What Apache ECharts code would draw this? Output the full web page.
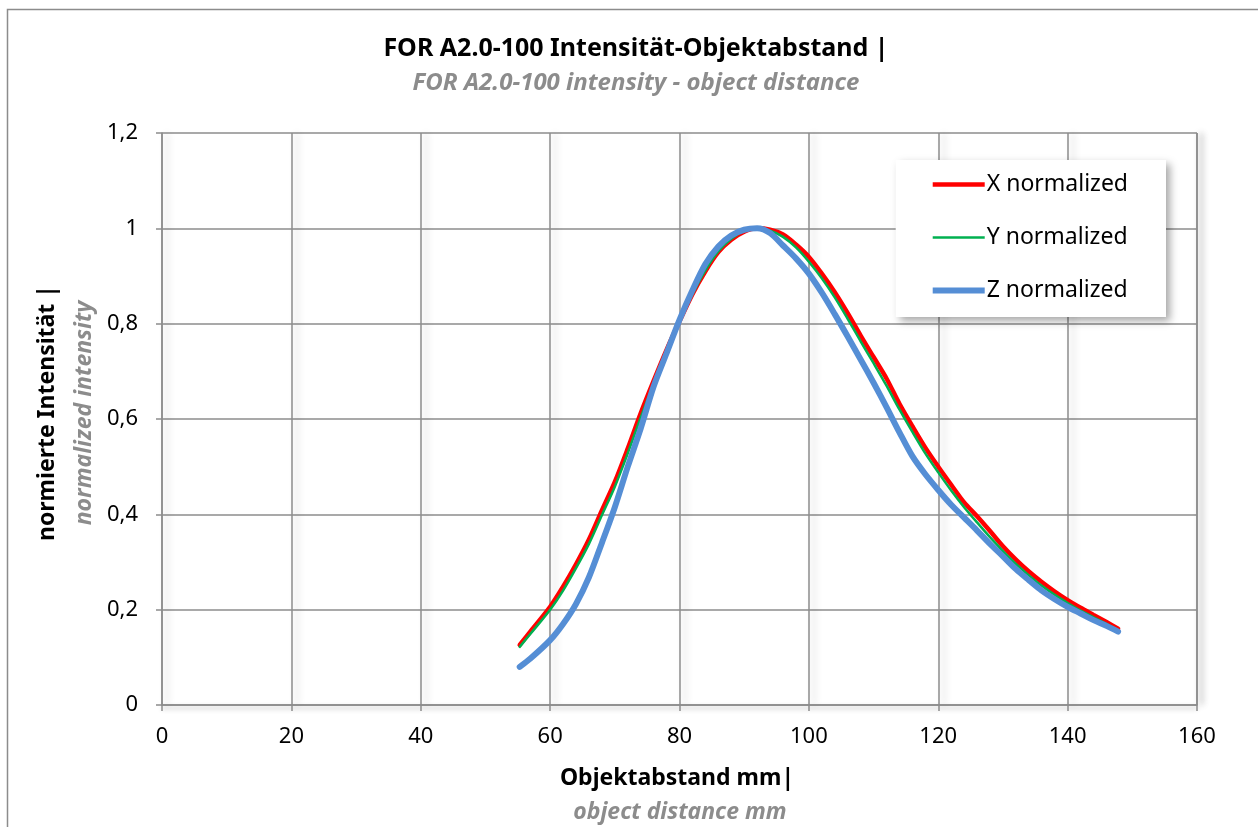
<!DOCTYPE html>
<html>
<head>
<meta charset="utf-8">
<script src="https://cdn.jsdelivr.net/npm/echarts@6/dist/echarts.min.js"></script>
<style>
  html, body { margin: 0; padding: 0; background: #fff; }
  #chart { width: 1258px; height: 827px; }
</style>
</head>
<body>
<div id="chart"></div>
<script>
// distance in mm
const distance = [55.3, 57, 60, 62, 64, 66, 68, 70, 72, 74, 76, 78, 80, 82, 84, 86, 88, 90, 92, 94, 96, 98,
  100, 102, 104, 106, 108, 110, 112, 114, 116, 118, 120, 122, 124, 126, 128, 130, 132, 134, 136, 138,
  140, 142, 144, 146, 147.8];

// normalized intensities
const xNorm = [0.126, 0.155, 0.206, 0.248, 0.295, 0.347, 0.408, 0.468, 0.538, 0.612, 0.680, 0.745, 0.805,
  0.862, 0.910, 0.950, 0.976, 0.993, 1.000, 0.997, 0.987, 0.966, 0.940, 0.905, 0.866, 0.822, 0.775, 0.730,
  0.685, 0.632, 0.585, 0.540, 0.500, 0.462, 0.425, 0.396, 0.365, 0.333, 0.305, 0.280, 0.258, 0.238, 0.220,
  0.204, 0.189, 0.174, 0.160];
const yNorm = [0.122, 0.150, 0.200, 0.240, 0.287, 0.338, 0.398, 0.458, 0.528, 0.603, 0.674, 0.742, 0.805,
  0.862, 0.912, 0.952, 0.978, 0.995, 1.000, 0.995, 0.982, 0.960, 0.930, 0.895, 0.855, 0.810, 0.763, 0.717,
  0.670, 0.620, 0.573, 0.528, 0.488, 0.450, 0.415, 0.383, 0.352, 0.323, 0.296, 0.272, 0.250, 0.231, 0.214,
  0.198, 0.184, 0.170, 0.157];
const zNorm = [0.080, 0.098, 0.136, 0.170, 0.212, 0.268, 0.340, 0.415, 0.500, 0.580, 0.668, 0.738, 0.808,
  0.870, 0.925, 0.962, 0.985, 0.997, 1.000, 0.990, 0.964, 0.937, 0.905, 0.865, 0.820, 0.773, 0.725, 0.676,
  0.625, 0.572, 0.522, 0.484, 0.451, 0.420, 0.393, 0.366, 0.338, 0.312, 0.285, 0.262, 0.240, 0.222, 0.206,
  0.192, 0.178, 0.166, 0.154];

const seriesNames = ["X normalized", "Y normalized", "Z normalized"];
const seriesColors = ["#ff0000", "#00b050", "#558ed5"];
const lineWidths = [4.5, 2.5, 6];

const FONT = "Noto Sans";
const GRID_COLOR = "#8c8c8c";

const pairs = ys => distance.map((d, i) => [d, ys[i]]);
const commaFmt = v => String(+(+v).toFixed(1)).replace(".", ",");
// legend icon: a flat bar as thick as the series line
const barIcon = w => "path://M0,0H52V" + w + "H0Z";

const chart = echarts.init(document.getElementById("chart"));

chart.setOption({
  animation: false,
  backgroundColor: "#fff",
  title: {
    text: "FOR A2.0-100 Intensität-Objektabstand |",
    subtext: "FOR A2.0-100 intensity - object distance",
    left: 631,
    textAlign: "center",
    top: 31,
    itemGap: 10,
    textStyle: { fontFamily: FONT, fontSize: 25, fontWeight: "bold", color: "#000" },
    subtextStyle: { fontFamily: FONT, fontSize: 24, fontWeight: "bold", fontStyle: "italic", color: "#8c8c8c" }
  },
  grid: { left: 162, right: 61, top: 133, bottom: 122, show: false },
  legend: {
    orient: "vertical",
    right: 92,
    top: 160,
    itemWidth: 52,
    itemHeight: 14,
    itemGap: 30,
    padding: [13, 38, 15, 37],
    backgroundColor: "#fff",
    shadowColor: "rgba(0,0,0,0.35)",
    shadowBlur: 8,
    shadowOffsetX: 4,
    shadowOffsetY: 4,
    textStyle: { fontFamily: FONT, fontSize: 23, color: "#000", padding: [0, 0, 0, -3] },
    data: seriesNames.map((n, i) => ({ name: n, icon: barIcon(lineWidths[i]) }))
  },
  xAxis: {
    type: "value",
    min: 0,
    max: 160,
    interval: 20,
    axisLine: { show: true, lineStyle: { color: GRID_COLOR, width: 1.5, shadowColor: "rgba(0,0,0,0.3)", shadowBlur: 5, shadowOffsetY: 3 } },
    axisTick: { show: true, length: 6, lineStyle: { color: GRID_COLOR, width: 1.5 } },
    axisLabel: { fontFamily: FONT, fontSize: 22, color: "#000", margin: 21 },
    splitLine: { show: true, lineStyle: { color: GRID_COLOR, width: 1.5, shadowColor: "rgba(0,0,0,0.22)", shadowBlur: 7, shadowOffsetX: 5 } }
  },
  yAxis: {
    type: "value",
    min: 0,
    max: 1.2,
    interval: 0.2,
    axisLine: { show: true, lineStyle: { color: GRID_COLOR, width: 1.5 } },
    axisTick: { show: true, length: 6, lineStyle: { color: GRID_COLOR, width: 1.5 } },
    axisLabel: { fontFamily: FONT, fontSize: 22, color: "#000", margin: 24, formatter: commaFmt },
    splitLine: { show: true, lineStyle: { color: GRID_COLOR, width: 1.5 } }
  },
  series: [xNorm, yNorm, zNorm].map((ys, i) => ({
    name: seriesNames[i],
    type: "line",
    data: pairs(ys),
    symbol: "none",
    smooth: 0.3,
    lineStyle: { color: seriesColors[i], width: lineWidths[i], cap: "round" },
    itemStyle: { color: seriesColors[i] },
    z: 3 + i
  })),
  graphic: [
    // outer chart frame (cut off at right/bottom)
    { type: "rect", shape: { x: 7.5, y: 9.5, width: 1400, height: 1000 }, silent: true, z: -10,
      style: { fill: "none", stroke: "#8c8c8c", lineWidth: 1.5 } },
    // plot area right border with shadow
    { type: "line", shape: { x1: 1197, y1: 133, x2: 1197, y2: 705 }, silent: true, z: 1,
      style: { stroke: GRID_COLOR, lineWidth: 1.5, shadowColor: "rgba(0,0,0,0.35)", shadowBlur: 6, shadowOffsetX: 4 } },
    { type: "text", rotation: Math.PI / 2, x: 36, y: 413, silent: true,
      style: { text: "normierte Intensität |", fontFamily: FONT, fontSize: 23, fontWeight: "bold", fill: "#000",
        align: "center", verticalAlign: "top" } },
    { type: "text", rotation: Math.PI / 2, x: 73, y: 413, silent: true,
      style: { text: "normalized intensity", fontFamily: FONT, fontSize: 23, fontWeight: "bold", fontStyle: "italic",
        fill: "#8c8c8c", align: "center", verticalAlign: "top" } },
    { type: "text", x: 677, y: 778, silent: true,
      style: { text: "Objektabstand mm|", fontFamily: FONT, fontSize: 23, fontWeight: "bold", fill: "#000",
        align: "center", verticalAlign: "middle" } },
    { type: "text", x: 680, y: 812, silent: true,
      style: { text: "object distance mm", fontFamily: FONT, fontSize: 23, fontWeight: "bold", fontStyle: "italic",
        fill: "#8c8c8c", align: "center", verticalAlign: "middle" } }
  ]
});
</script>
</body>
</html>
